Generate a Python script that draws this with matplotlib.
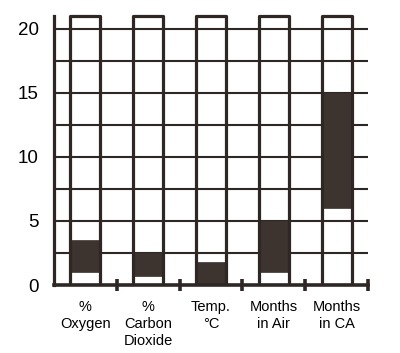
import matplotlib
matplotlib.use("Agg")
import matplotlib.pyplot as plt
import numpy as np

# data
categories = ["%\nOxygen", "%\nCarbon\nDioxide", "Temp.\n°C", "Months\nin Air", "Months\nin CA"]
range_low = [1.0, 0.7, 0.0, 1.0, 6.0]
range_high = [3.5, 2.5, 1.8, 5.0, 15.0]
scale_max = 21
y_ticks = [0, 5, 10, 15, 20]

line_col = "#2e2724"
fill_col = "#3d3430"

plt.rcParams["font.family"] = ["Liberation Sans", "DejaVu Sans"]

fig = plt.figure(figsize=(4.0, 3.53), dpi=100)
ax = fig.add_axes([0.135, 0.1926, 0.785, 0.7714])

x = np.arange(len(categories)) + 0.5
lo = np.array(range_low)
hi = np.array(range_high)

# gridlines every 2.5
for g in np.arange(2.5, scale_max, 2.5):
    ax.axhline(g, color=line_col, lw=1.5, zorder=1)

ax.bar(x, hi - lo, bottom=lo, width=0.48, color=fill_col, edgecolor=fill_col,
       lw=0.5, zorder=2)
ax.bar(x, [scale_max] * len(x), width=0.48, fill=False, edgecolor=line_col,
       lw=2.3, joinstyle="round", zorder=3)

ax.set_xlim(0, len(categories))
ax.set_ylim(0, 21.25)

for s in ["top", "right"]:
    ax.spines[s].set_visible(False)
ax.spines["left"].set_bounds(0, scale_max)
ax.spines["left"].set_color(line_col)
ax.spines["left"].set_linewidth(2.3)
ax.spines["bottom"].set_color(line_col)
ax.spines["bottom"].set_linewidth(2.6)
ax.spines["bottom"].set_zorder(4)

ax.set_yticks(y_ticks)
ax.tick_params(axis="y", length=0, pad=11, labelsize=13.5, colors="black")

ax.set_xticks(x)
ax.set_xticklabels(categories, fontsize=10.5, linespacing=1.25, va="top")
ax.tick_params(axis="x", which="major", length=0, pad=11)
ax.set_xticks(np.arange(1, len(categories) + 1), minor=True)
ax.tick_params(axis="x", which="minor", direction="inout", length=9, width=2.6,
               color=line_col)

fig.savefig("out.png", dpi=100)
